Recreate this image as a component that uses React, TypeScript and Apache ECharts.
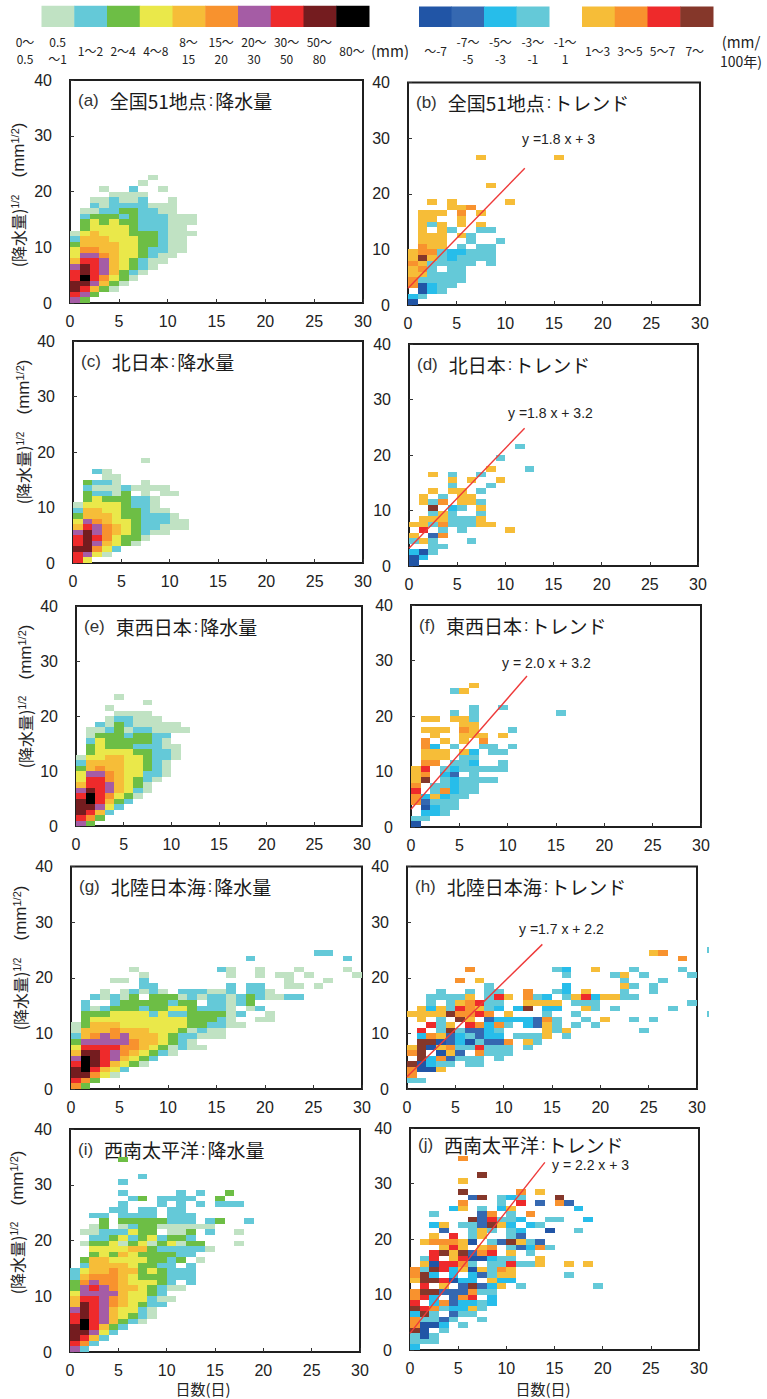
import React, { useEffect, useRef } from "react";
import * as echarts from "echarts";

const precipColors = ["#c0e2c3", "#64c9d8", "#6dbe45", "#eae84a", "#f6bd38", "#f8922e", "#a55ca5", "#ee2a2b", "#741c1f", "#000000"];
const trendColors = ["#2155a6", "#3568b1", "#27bdea", "#64c9d8", "#f6bd38", "#f8922e", "#ee2a2b", "#85372a"];

const precipLabels = [["0〜", "0.5"], ["0.5", "〜1"], ["1〜2"], ["2〜4"], ["4〜8"], ["8〜", "15"], ["15〜", "20"], ["20〜", "30"], ["30〜", "50"], ["50〜", "80"], ["80〜"]];
const trendLabels = [["〜-7"], ["-7〜", "-5"], ["-5〜", "-3"], ["-3〜", "-1"], ["-1〜", "1"], ["1〜3"], ["3〜5"], ["5〜7"], ["7〜"]];

// Rows run upward from y = 0. Token "col:chars" places classes from that column; "." is an empty cell.
const panelA = ["gc", "hgc", "iheca", "iigeca", "hjhfdca", "hihgecba", "gihgedcba", "ehhgedcbaa", "dggfeddcbaa", "dffeeddcbbaa", "ceeeeddccbaa", "beeedddccbaa", "adedddcccbaaa", "1:cddddcbbbaa", "1:cdcdccbbbaaa", "1:bcccbcbbbaaa", "1:aabbccbbaa", "2:babbbbaaa", "2:aabaab 10:a", "4:aaa 7:a", "3:a 6:b 9:a", "7:a", "8:a"];
const panelB = ["1", "34", "1:134", "61344", "644444", "554444", "564.44", "6544444.4", "585434444", "566433444", "1:655 5:4 7:44", "1:555 6:4 9:4", "1:555 5:54", "1:5 3:54 7:44", "1:545 5:5 7:5", "1:55 5:5", "1:555 5:6 7:5", "4:556", "2:5 4:5 10:5", "", "", "8:5", "", "", "", "", "7:5 15:5"];
const panelC = ["hd", "hgda", "iifdb", "higedca", "hihfdcca", "gigfedcbaa", "ehgfedcbbaaa", "dgfeddcbbbaa", "ceeedccbbba", "beeddccbaa", "addddcbba", "1:cdcccbba", "1:cbbac.a.aa", "1:baaabaaaa", "1:cbba 7:a", "3:aa", "2:ba", "", "7:a"];
const panelD = ["1", "13", "314", "2:44", "454 6:4", "5.26", "1:7 3:4 5:4 10:5", "554644455", "1:5554445", "2:454 7:4", "2:8 4:34 7:5", "1:546 5:554", "1:5 3:4 5:55", "2:5 4:55 7:4", "4:4 8:4", "4:5 6:5 9:5", "2:5 4:4 7:4", "8:5 12:4", "", "9:4", "", "11:4"];
const panelE = ["gc", "hfc", "iheb", "iigdb", "ijhecb", "hjhfdca", "gihgedba", "ehhgedca", "dhhfedcba", "dggfeddbba", "cefeeddcba", "beeeeddcba", "addeeddcbba", "1:cddddccbba", "1:cdcccbbbaa", "1:bdcccccba", "1:acccbccbb", "1:aabcabbaaaa", "2:bacbaaaaa", "3:abbaaa", "4:aaaa", "3:a", "7:a", "4:a"];
const panelF = ["1", "44", "1:334", "1:1344", "62444", "635344", "7.46344", "6.44344", "58.434444", "56.32.4", "57.4344444", "1:66.443..4", "1:555.44", "1:555.53.44", "1:63.4..44.4", "1:6.5.5.6", "2:5..555.5", "1:555.65 10:4", "5:55", "1:55.554", "4:4.4 15:4", "6:4..4", "", "", "4:45", "6:5"];
const panelG = ["fc", "hfc", "iifda", "ijhedb", "hjihedca", "gjihgedcb", "eiihgfedcba", "dhhhhffedcabaa", "cgggggfeedcba", "befgfgeeedcbbaaa", "aeeefeeedddcabaa", "aceeedddddddccbbaa", "1:cddddddddddcccba 19:aa", "1:cccddddbdbbccccab 20:a", "1:babcccbccddcbbba.ab", "1:b..bcccccbcc.bbabc", "2:babac.cccababbabcbaabb", "3:a.ababa.bbbaab.bba", "7:bb 16:b.bb 22:aa.a", "4:aa.b 22:a 26:a", "7:a 16:a 19:a 21:aa 24:a 29:a", "6:a 15:ba 19:a 23:a 28:a", "", "18:b 28:b", "25:bb"];
const panelH = ["", "44", "6", "6115", "81344.44", "1:8362444.4", "68.152.6444", "58156447444.4", "1:8812314226.54", "1:365234233.4445.4", "1:7.4842234 14:545 24:4", "2:745.76364.3254.4.4", "1:5.4.85 8:23333264 18:4 20:5 23:4 25:4", "555586676 10:5 14:4 17:4", "1:535476543 11:38 14:33 18:54 21:4 27:4", "2:4.456744 12:555 15:5 17:444 29:4", "2:44445.475 12:643 16:45735544", "3:4 6:4 8:44 12:6 15:43 18:5 22:4 25:4", "8:4 16:3 22:54 25:4", "5:6 7:5 22:4 26:4", "16:4 21:45 24:4 29:4", "6:6 15:43 19:5 23:4 28:4", "", "28:6", "25:56"];
const panelI = ["gb", "hfb", "iheb", "iigdb", "ijhecb", "hjhgecba", "hihgedcba", "gihgeddba", "eihgfedcbb", "ehhgfeddbaa", "dggggeddcb", "cghgfeedcbaa", "cfgffedddcb.b", "befffedcccbbb", "bdeefeecdcbbb", "1:beeeedccbb.b", "1:ceeddddccbc 13:a", "2:cdcedccccbb", "2:ddddeecbbbbba", "1:accdacdacdacc 17:a", "2:bbcdbcdbccb", "1:aabbbdcc 10:aac 14:b 17:a", "2:ac.abcc 9:aaaaaa", "3:c.ccccc 10:bbb.bc 18:b", "2:bb.bbbb 10:bbb", "4:bb.bb.bb", "5:b...b.b.b.bbb", "6:bc 9:bbbb 15:c", "5:b 11:b 13:b 16:c", "", "5:b", "7:b", "", "", "5:c"];
const panelJ = ["3", "444", "414", "81.4", "6113.4", "64424 7:4", "384.244", "87643354", "7.3623343", "673.267.3", "688222644", "1:7.5.2823 9:5 11:4 19:4", "5887133.533", "683.3.32455 16:4", "64873515465", "1:517764.447445 16:5 18:5", "1:47.57113 9:44 13:5", "2:7858267.5.4", "3:575.56.42364", "1:566651.428542", "2:5.7.45..42", "3:2..454.43 14:1 17:4", "2:35.442853.34", "6:827443 14:44 18:3", "2:4 7:26 10:4 12:6", "4:35.4.35 17:3", "5:6 9:4 11:7 13:2 15:62", "6:28.434 15:8", "5:8 11:6 13:5", "", "5:5", "7:8", "", "", "5:6"];
// The two teal slivers just right of panel (h)'s frame: [x, y, class, width]
const panelHEdge = [[31, 24.5, 3, 0.2], [31, 13, 3, 0.2]];

const lineB = [[0, 3], [12, 24.6]];
const lineD = [[0, 3.2], [12, 24.8]];
const lineF = [[0, 3.2], [12, 27.2]];
const lineH = [[0, 2.2], [14, 26]];
const lineJ = [[0, 3], [14, 33.8]];

function decode(rows: string[], trend: boolean) {
  const out: number[][] = [];
  rows.forEach((row, y) => {
    row.split(" ").forEach((tok) => {
      if (!tok) return;
      const i = tok.indexOf(":");
      const col = i >= 0 ? parseInt(tok.slice(0, i), 10) : 0;
      const chars = i >= 0 ? tok.slice(i + 1) : tok;
      for (let k = 0; k < chars.length; k++) {
        const ch = chars[k];
        if (ch === ".") continue;
        const cls = trend ? parseInt(ch, 10) - 1 : ch.charCodeAt(0) - 97;
        out.push([col + k, y, cls, 1]);
      }
    });
  });
  return out;
}

const sans = "'Liberation Sans', Arial, sans-serif";
const cjk = "'Noto Sans CJK JP', sans-serif";
const ink = "#222222";

type Panel = {
  tag: string; title: string; rows: string[]; trend: boolean;
  l: number; r: number; t: number; b: number; titleDy?: number;
  line?: number[][]; eq?: string; eqX?: number; eqY?: number; extra?: number[][];
  yx?: number; yLow?: number; yUp?: number;
};

const panels: Panel[] = [
  { tag: "(a)", title: "全国51地点", rows: panelA, trend: false, l: 70, r: 363, t: 80, b: 303, yx: 18, yLow: 231, yUp: 150 },
  { tag: "(b)", title: "全国51地点", rows: panelB, trend: true, l: 408, r: 700, t: 82.5, b: 305, line: lineB, eq: "y =1.8 x + 3", eqX: 522, eqY: 139 },
  { tag: "(c)", title: "北日本", rows: panelC, trend: false, l: 73, r: 363, t: 341, b: 563, yx: 23, yLow: 468, yUp: 387 },
  { tag: "(d)", title: "北日本", rows: panelD, trend: true, l: 409, r: 698, t: 344, b: 566, line: lineD, eq: "y =1.8 x + 3.2", eqX: 508, eqY: 413 },
  { tag: "(e)", title: "東西日本", rows: panelE, trend: false, l: 76, r: 362, t: 606, b: 826, yx: 25, yLow: 732, yUp: 652 },
  { tag: "(f)", title: "東西日本", rows: panelF, trend: true, l: 411, r: 701, t: 605, b: 827, line: lineF, eq: "y = 2.0 x + 3.2", eqX: 502, eqY: 663 },
  { tag: "(g)", title: "北陸日本海", rows: panelG, trend: false, l: 71, r: 362, t: 866.5, b: 1089, yx: 20, yLow: 994, yUp: 913 },
  { tag: "(h)", title: "北陸日本海", rows: panelH, trend: true, l: 407, r: 697, t: 866.5, b: 1089, line: lineH, eq: "y =1.7 x + 2.2", eqX: 519, eqY: 929, extra: panelHEdge },
  { tag: "(i)", title: "西南太平洋", rows: panelI, trend: false, l: 70, r: 360, t: 1129, b: 1352, yx: 17, yLow: 1258, yUp: 1178 },
  { tag: "(j)", title: "西南太平洋", rows: panelJ, trend: true, l: 410, r: 699, t: 1128, b: 1350, titleDy: -4, line: lineJ, eq: "y = 2.2 x + 3", eqX: 552, eqY: 1165 },
];

function txt(text: string, x: number, y: number, size: number, align: string, family = cjk) {
  return {
    type: "text",
    style: { text, x, y, fill: ink, fontSize: size, fontFamily: family, textAlign: align, textVerticalAlign: "middle" },
  };
}

function legendGraphics() {
  const els: any[] = [];
  const bar = (x0: number, w: number, colors: string[], y: number, h: number) =>
    colors.forEach((c, i) =>
      els.push({ type: "rect", shape: { x: x0 + i * w, y, width: w + 0.5, height: h }, style: { fill: c } })
    );
  bar(41.5, 32.75, precipColors, 5.7, 21.3);
  bar(419, 32.5, trendColors.slice(0, 4), 6.5, 20.5);
  bar(582, 32.75, trendColors.slice(4), 6.5, 20.5);
  const lab = (labels: string[][], x0: number, dx: number) =>
    labels.forEach((ls, i) => {
      const x = x0 + i * dx;
      if (ls.length === 1) {
        els.push(txt(ls[0], x, 50, 12, "center"));
      } else {
        els.push(txt(ls[0], x, 41, 12, "center"));
        els.push(txt(ls[1], x, 58, 12, "center"));
      }
    });
  lab(precipLabels, 25, 32.7);
  lab(trendLabels, 435.6, 32.4);
  els.push(txt("(mm)", 390, 50, 15, "center"));
  els.push(txt("(mm/", 741, 41, 15, "center"));
  els.push(txt("100年)", 741, 61, 14, "center"));
  return els;
}

function panelGraphics(p: Panel) {
  const els: any[] = [];
  const suffix = p.trend ? "トレンド" : "降水量";
  els.push({
    type: "text",
    x: p.l + 8,
    y: p.t + 20 + (p.titleDy || 0),
    style: {
      text: `{t|${p.tag}}{c|${p.title}}{s|:}{c|${suffix}}`,
      rich: {
        t: { fontSize: 17, fontFamily: sans, fill: "#333333", padding: [0, 11, 0, 0] },
        c: { fontSize: 19, fontFamily: cjk, fill: "#1a1a1a" },
        s: { fontSize: 16, fontFamily: sans, fill: "#1a1a1a", padding: [0, 2, 0, 2] },
      },
      textVerticalAlign: "middle",
      textAlign: "left",
    },
  });
  if (p.eq) els.push(txt(p.eq, p.eqX as number, p.eqY as number, 14, "left", sans));
  if (p.yx !== undefined) {
    const rot = Math.PI / 2;
    els.push({
      type: "text", x: p.yx, y: p.yLow, rotation: rot,
      style: {
        text: "{a|(降水量)}{b|1/2}",
        rich: {
          a: { fontSize: 16, fontFamily: cjk, fill: ink },
          b: { fontSize: 10, fontFamily: sans, fill: ink, verticalAlign: "top" },
        },
        textAlign: "center", textVerticalAlign: "middle",
      },
    });
    els.push({
      type: "text", x: p.yx, y: p.yUp, rotation: rot,
      style: {
        text: "{a|(mm}{b|1/2}{a|)}",
        rich: {
          a: { fontSize: 17, fontFamily: sans, fill: ink },
          b: { fontSize: 11, fontFamily: sans, fill: ink, verticalAlign: "top" },
        },
        textAlign: "center", textVerticalAlign: "middle",
      },
    });
  }
  return els;
}

function buildOption() {
  const grid: any[] = [], xAxis: any[] = [], yAxis: any[] = [], series: any[] = [];
  const graphic: any[] = legendGraphics();
  panels.forEach((p, i) => {
    grid.push({
      left: p.l, top: p.t, width: p.r - p.l, height: p.b - p.t,
      show: true, borderColor: "#1f1f1f", borderWidth: 2, backgroundColor: "#ffffff",
    });
    const tick = { show: true, inside: true, length: 4, lineStyle: { color: "#333333", width: 1 } };
    xAxis.push({
      type: "value", gridIndex: i, min: 0, max: 30, interval: 5, splitLine: { show: false },
      axisLine: { show: false }, axisTick: tick,
      axisLabel: { fontSize: 16, fontFamily: sans, color: ink, margin: 10, hideOverlap: false },
    });
    yAxis.push({
      type: "value", gridIndex: i, min: 0, max: 40, interval: 10, splitLine: { show: false },
      axisLine: { show: false }, axisTick: tick,
      axisLabel: { fontSize: 16, fontFamily: sans, color: ink, margin: 18, hideOverlap: false },
    });
    const palette = p.trend ? trendColors : precipColors;
    series.push({
      type: "custom", xAxisIndex: i, yAxisIndex: i, coordinateSystem: "cartesian2d", clip: false,
      silent: true, encode: { x: 0, y: 1 },
      data: decode(p.rows, p.trend).concat((p.extra || []) as number[][]),
      renderItem: (_: any, api: any) => {
        const x = api.value(0), y = api.value(1), w = api.value(3);
        const a = api.coord([x, y + 1]), b = api.coord([x + w, y]);
        const rx = Math.round(a[0]), ry = Math.round(a[1]);
        return {
          type: "rect",
          shape: { x: rx, y: ry, width: Math.max(1, Math.round(b[0]) - rx), height: Math.round(b[1]) - ry },
          style: { fill: palette[api.value(2)] },
        };
      },
    });
    if (p.line) {
      series.push({
        type: "line", xAxisIndex: i, yAxisIndex: i, data: p.line, showSymbol: false, symbol: "none", silent: true, z: 5,
        lineStyle: { color: "#ee3a3a", width: 1.4 },
      });
    }
    graphic.push(...panelGraphics(p));
  });
  graphic.push(txt("日数(日)", 203, 1388, 15, "center"));
  graphic.push(txt("日数(日)", 543, 1388, 15, "center"));
  return { animation: false, backgroundColor: "#ffffff", grid, xAxis, yAxis, series, graphic };
}

export default function App() {
  const ref = useRef<HTMLDivElement>(null);
  useEffect(() => {
    document.body.style.margin = "0";
    const chart = echarts.init(ref.current as HTMLDivElement, undefined, { renderer: "svg" });
    chart.setOption(buildOption() as any);
    return () => chart.dispose();
  }, []);
  return <div ref={ref} style={{ width: 767, height: 1399 }} />;
}
